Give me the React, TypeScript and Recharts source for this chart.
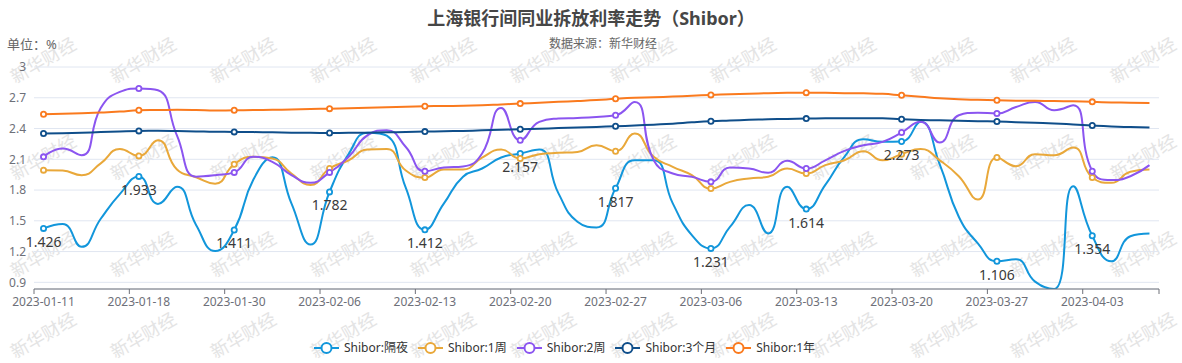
import React from 'react';
import { LineChart, Line, XAxis, YAxis, CartesianGrid } from 'recharts';

const dates = [
  '2023-01-11', '2023-01-12', '2023-01-13', '2023-01-16', '2023-01-17',
  '2023-01-18', '2023-01-19', '2023-01-20', '2023-01-28', '2023-01-29',
  '2023-01-30', '2023-01-31', '2023-02-01', '2023-02-02', '2023-02-03',
  '2023-02-06', '2023-02-07', '2023-02-08', '2023-02-09', '2023-02-10',
  '2023-02-13', '2023-02-14', '2023-02-15', '2023-02-16', '2023-02-17',
  '2023-02-20', '2023-02-21', '2023-02-22', '2023-02-23', '2023-02-24',
  '2023-02-27', '2023-02-28', '2023-03-01', '2023-03-02', '2023-03-03',
  '2023-03-06', '2023-03-07', '2023-03-08', '2023-03-09', '2023-03-10',
  '2023-03-13', '2023-03-14', '2023-03-15', '2023-03-16', '2023-03-17',
  '2023-03-20', '2023-03-21', '2023-03-22', '2023-03-23', '2023-03-24',
  '2023-03-27', '2023-03-28', '2023-03-29', '2023-03-30', '2023-03-31',
  '2023-04-03', '2023-04-04', '2023-04-06', '2023-04-07',
];

const overnight = [
  1.426, 1.468, 1.247, 1.52, 1.76, 1.933, 1.665, 1.832, 1.46, 1.205,
  1.411, 1.9, 2.12, 1.67, 1.268, 1.782, 2.15, 2.36, 2.33, 1.82,
  1.412, 1.67, 1.93, 2.01, 2.117, 2.157, 2.195, 1.77, 1.49, 1.435,
  1.817, 2.09, 2.09, 1.67, 1.36, 1.231, 1.44, 1.653, 1.377, 1.832,
  1.614, 1.85, 2.124, 2.295, 2.27, 2.273, 2.465, 2.05, 1.54, 1.28,
  1.106, 1.124, 0.907, 0.835, 1.838, 1.354, 1.105, 1.35, 1.377,
];

const week1 = [
  1.994, 1.99, 1.945, 2.06, 2.2, 2.133, 2.285, 2.0, 1.925, 1.862,
  2.052, 2.124, 2.108, 1.96, 1.85, 2.01, 2.09, 2.195, 2.2, 1.99,
  1.922, 2.0, 2.0, 2.117, 2.195, 2.108, 2.15, 2.163, 2.172, 2.237,
  2.179, 2.351, 2.124, 2.026, 1.945, 1.815, 1.88, 1.913, 1.929, 2.01,
  1.961, 2.043, 2.09, 2.179, 2.09, 2.15, 2.2, 2.09, 1.935, 1.708,
  2.117, 2.033, 2.15, 2.14, 2.215, 1.922, 1.87, 1.978, 2.0,
];

const week2 = [
  2.124, 2.205, 2.14, 2.6, 2.757, 2.79, 2.773, 2.33, 1.93, 1.945,
  1.972, 2.124, 2.075, 1.945, 1.87, 1.972, 2.124, 2.335, 2.384, 2.22,
  1.984, 2.02, 2.03, 2.156, 2.601, 2.286, 2.465, 2.497, 2.503, 2.513,
  2.529, 2.659, 2.09, 1.961, 1.929, 1.88, 2.02, 2.01, 1.968, 2.085,
  2.01, 2.09, 2.182, 2.237, 2.27, 2.361, 2.465, 2.263, 2.529, 2.555,
  2.546, 2.61, 2.659, 2.578, 2.627, 1.984, 1.897, 1.935, 2.043,
];

const month3 = [
  2.351, 2.355, 2.36, 2.365, 2.372, 2.377, 2.378, 2.376, 2.372, 2.368,
  2.367, 2.365, 2.363, 2.36, 2.358, 2.357, 2.358, 2.36, 2.363, 2.366,
  2.37, 2.373, 2.377, 2.382, 2.387, 2.393, 2.398, 2.404, 2.41, 2.416,
  2.422, 2.43, 2.438, 2.447, 2.46, 2.471, 2.478, 2.485, 2.49, 2.494,
  2.497, 2.499, 2.5, 2.501, 2.5, 2.49, 2.484, 2.48, 2.476, 2.472,
  2.468, 2.462, 2.456, 2.45, 2.44, 2.429, 2.42, 2.414, 2.409,
];

const year1 = [
  2.539, 2.545, 2.55, 2.556, 2.565, 2.578, 2.58, 2.582, 2.58, 2.575,
  2.578, 2.58, 2.582, 2.586, 2.59, 2.594, 2.598, 2.603, 2.608, 2.612,
  2.617, 2.62, 2.622, 2.627, 2.635, 2.643, 2.652, 2.66, 2.668, 2.677,
  2.69, 2.7, 2.705, 2.712, 2.72, 2.728, 2.735, 2.74, 2.745, 2.748,
  2.75, 2.748, 2.745, 2.743, 2.738, 2.724, 2.71, 2.695, 2.685, 2.68,
  2.676, 2.672, 2.67, 2.668, 2.665, 2.66, 2.655, 2.652, 2.65,
];

const seriesKeys = ['overnight', 'week1', 'week2', 'month3', 'year1'];
const seriesNames = ['Shibor:隔夜', 'Shibor:1周', 'Shibor:2周', 'Shibor:3个月', 'Shibor:1年'];
const seriesColors = ['#1296db', '#e9a83a', '#8b55f0', '#0f4e8a', '#fa7a1e'];
const yTicks = [0.9, 1.2, 1.5, 1.8, 2.1, 2.4, 2.7, 3];

const TITLE = '上海银行间同业拆放利率走势（Shibor）';
const SUBTITLE = '数据来源：新华财经';
const UNIT = '单位：%';
const WATERMARK = '新华财经';

const LABEL_EVERY = 5;
const W = 1182;
const H = 363;
const MARGIN = { top: 67, right: 23, bottom: 44, left: 0 };
const Y_AXIS_W = 34;
const X_AXIS_H = 30;
const PLOT_W = W - MARGIN.left - MARGIN.right - Y_AXIS_W;
const BAND = PLOT_W / dates.length;
const FONT = "'Noto Sans', 'Noto Sans CJK SC', sans-serif";

const rows = dates.map((d, i) => ({
  idx: i,
  date: d,
  overnight: overnight[i],
  week1: week1[i],
  week2: week2[i],
  month3: month3[i],
  year1: year1[i],
}));

const xTicks: number[] = [];
for (let i = 0; i < dates.length; i += LABEL_EVERY) xTicks.push(i - 0.5);
xTicks.push(dates.length - 0.5);

const yMin = Math.min(...overnight, ...week1, ...week2, ...month3, ...year1);

// ECharts-style smooth curve (smooth = 0.5, control points clamped)
function echartsCurve(context: any) {
  let xs: number[] = [];
  let ys: number[] = [];
  const smooth = 0.5;
  return {
    areaStart() {},
    areaEnd() {},
    lineStart() {
      xs = [];
      ys = [];
    },
    point(x: number, y: number) {
      xs.push(+x);
      ys.push(+y);
    },
    lineEnd() {
      const n = xs.length;
      if (!n) return;
      let prevX = 0, prevY = 0, cpx0 = 0, cpy0 = 0;
      for (let i = 0; i < n; i++) {
        const x = xs[i];
        const y = ys[i];
        if (i === 0) {
          context.moveTo(x, y);
          cpx0 = x;
          cpy0 = y;
        } else {
          let cpx1 = x, cpy1 = y, nextCpx0 = x, nextCpy0 = y;
          if (i < n - 1) {
            const nextX = xs[i + 1];
            const nextY = ys[i + 1];
            let vx = nextX - prevX;
            let vy = nextY - prevY;
            const dx0 = x - prevX, dx1 = nextX - x, dy0 = y - prevY, dy1 = nextY - y;
            const lenPrev = Math.sqrt(dx0 * dx0 + dy0 * dy0);
            const lenNext = Math.sqrt(dx1 * dx1 + dy1 * dy1);
            const ratio = lenNext / (lenNext + lenPrev);
            nextCpx0 = x + vx * smooth * ratio;
            nextCpy0 = y + vy * smooth * ratio;
            nextCpx0 = Math.min(nextCpx0, Math.max(nextX, x));
            nextCpy0 = Math.min(nextCpy0, Math.max(nextY, y));
            nextCpx0 = Math.max(nextCpx0, Math.min(nextX, x));
            nextCpy0 = Math.max(nextCpy0, Math.min(nextY, y));
            vx = nextCpx0 - x;
            vy = nextCpy0 - y;
            cpx1 = x - (vx * lenPrev) / lenNext;
            cpy1 = y - (vy * lenPrev) / lenNext;
            cpx1 = Math.min(cpx1, Math.max(prevX, x));
            cpy1 = Math.min(cpy1, Math.max(prevY, y));
            cpx1 = Math.max(cpx1, Math.min(prevX, x));
            cpy1 = Math.max(cpy1, Math.min(prevY, y));
            vx = x - cpx1;
            vy = y - cpy1;
            nextCpx0 = x + (vx * lenNext) / lenPrev;
            nextCpy0 = y + (vy * lenNext) / lenPrev;
          }
          context.bezierCurveTo(cpx0, cpy0, cpx1, cpy1, x, y);
          cpx0 = nextCpx0;
          cpy0 = nextCpy0;
        }
        prevX = x;
        prevY = y;
      }
    },
  };
}

const makeDot = (color: string) => (props: any) => {
  const { cx, cy, index } = props;
  if (index % LABEL_EVERY !== 0 || cx == null || cy == null) {
    return <g key={`d-${index}`} />;
  }
  return (
    <circle key={`d-${index}`} cx={cx} cy={cy} r={2.6} fill="#fff" stroke={color} strokeWidth={1.8} />
  );
};

const renderLabel = (props: any) => {
  const { x, y, value, index } = props;
  if (index % LABEL_EVERY !== 0) return <g key={`l-${index}`} />;
  return (
    <text
      key={`l-${index}`}
      x={x}
      y={y + 18.5}
      textAnchor="middle"
      fontSize={14}
      fontFamily={FONT}
      fill="#3a3a3a"
    >
      {value}
    </text>
  );
};

const XTick = (props: any) => {
  const { x, y, payload } = props;
  const i = payload.value + 0.5;
  if (i < 0 || i >= dates.length) return <g />;
  return (
    <text
      x={x + BAND / 2}
      y={y}
      dy="0.71em"
      textAnchor="middle"
      fontSize={12}
      fontFamily={FONT}
      fill="#6e7079"
    >
      {dates[i]}
    </text>
  );
};

const WM_ROWS = [60, 157, 254, 335];
const WM_COLS = 12;

const Watermark = () => {
  const items: React.ReactNode[] = [];
  WM_ROWS.forEach((cy, r) => {
    for (let c = 0; c < WM_COLS; c++) {
      const cx = 43 + c * 100;
      items.push(
        <text
          key={`${r}-${c}`}
          x={cx}
          y={cy}
          textAnchor="middle"
          dominantBaseline="central"
          fontSize={18}
          fontFamily={FONT}
          fill="#e4e4e4"
          transform={`rotate(-30 ${cx} ${cy})`}
        >
          {WATERMARK}
        </text>
      );
    }
  });
  return (
    <svg width={W} height={H} style={{ position: 'absolute', left: 0, top: 0 }}>
      {items}
    </svg>
  );
};

const LegendIcon = ({ color }: { color: string }) => (
  <svg width={25} height={14} style={{ display: 'block' }}>
    <line x1={0} y1={7} x2={25} y2={7} stroke={color} strokeWidth={2} />
    <circle cx={12.5} cy={7} r={5} fill="#fff" stroke={color} strokeWidth={2} />
  </svg>
);

export default function App() {
  return (
    <div
      style={{
        position: 'absolute',
        left: 0,
        top: 0,
        width: W,
        height: H,
        background: '#fff',
        fontFamily: FONT,
        overflow: 'hidden',
      }}
    >
      <Watermark />
      <div
        style={{
          position: 'absolute',
          left: 591,
          top: 7,
          transform: 'translateX(-50%)',
          whiteSpace: 'nowrap',
          fontSize: 18,
          lineHeight: '22px',
          fontWeight: 'bold',
          color: '#464646',
        }}
      >
        {TITLE}
      </div>
      <div
        style={{
          position: 'absolute',
          left: 603,
          top: 36,
          transform: 'translateX(-50%)',
          whiteSpace: 'nowrap',
          fontSize: 12,
          lineHeight: '16px',
          color: '#666',
        }}
      >
        {SUBTITLE}
      </div>
      <div
        style={{
          position: 'absolute',
          left: 7,
          top: 35,
          whiteSpace: 'nowrap',
          fontSize: 13,
          lineHeight: '18px',
          color: '#666',
        }}
      >
        {UNIT}
      </div>
      <div style={{ position: 'absolute', left: 0, top: 0 }}>
        <LineChart width={W} height={H} data={rows} margin={MARGIN}>
          <CartesianGrid horizontal vertical={false} stroke="#e0e6f1" />
          <XAxis
            dataKey="idx"
            type="number"
            domain={[-0.5, dates.length - 0.5]}
            ticks={xTicks}
            interval={0}
            height={X_AXIS_H}
            tickSize={5}
            tickMargin={3}
            axisLine={{ stroke: '#6e7079' }}
            tickLine={{ stroke: '#6e7079' }}
            tick={<XTick />}
            allowDataOverflow
          />
          <YAxis
            type="number"
            domain={[yMin, 3]}
            ticks={yTicks}
            interval={0}
            width={Y_AXIS_W}
            axisLine={false}
            tickLine={false}
            tickSize={6}
            tickMargin={2}
            allowDataOverflow
            tick={{ fill: '#6e7079', fontSize: 12, fontFamily: FONT }}
          />
          {seriesKeys.map((k, si) => (
            <Line
              key={k}
              dataKey={k}
              name={seriesNames[si]}
              type={echartsCurve as any}
              stroke={seriesColors[si]}
              strokeWidth={2}
              dot={makeDot(seriesColors[si])}
              activeDot={false}
              isAnimationActive={false}
            />
          ))}
          <Line
            dataKey="overnight"
            type={echartsCurve as any}
            stroke="none"
            dot={false}
            activeDot={false}
            legendType="none"
            label={renderLabel}
            isAnimationActive={false}
          />
        </LineChart>
      </div>
      <div
        style={{
          position: 'absolute',
          left: 314,
          top: 338,
          height: 20,
          display: 'flex',
          alignItems: 'center',
          whiteSpace: 'nowrap',
        }}
      >
        {seriesNames.map((n, i) => (
          <div key={n} style={{ display: 'flex', alignItems: 'center', marginRight: 10 }}>
            <LegendIcon color={seriesColors[i]} />
            <span style={{ marginLeft: 5, fontSize: 12, color: '#333', lineHeight: '20px' }}>{n}</span>
          </div>
        ))}
      </div>
    </div>
  );
}
